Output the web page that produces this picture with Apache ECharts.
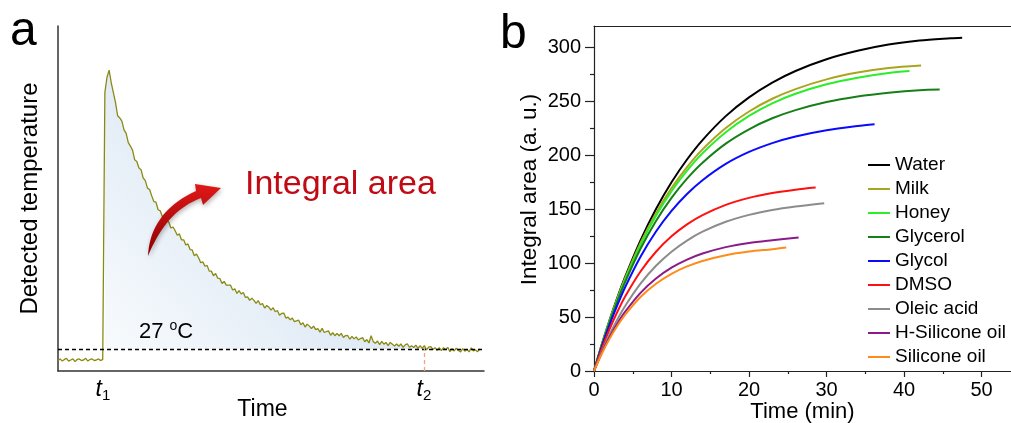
<!DOCTYPE html>
<html><head><meta charset="utf-8">
<script src="https://cdn.jsdelivr.net/npm/echarts@6/dist/echarts.min.js"></script>
<style>html,body{margin:0;padding:0;background:#fff}#c{width:1011px;height:423px}</style>
</head><body><div id="c"></div>
<script>
const FONT = '"Liberation Sans", Arial, Helvetica, sans-serif';

// ---------- Panel a: detected temperature trace (time step 0.5 units) ----------
const tempStep = 0.5;
const tempValues = [
  25.95, 26.1, 25.9, 26.05, 26.15, 25.9, 26.0, 26.1, 25.85, 26.05,
  26.1, 25.95, 26.0, 26.15, 25.9, 26.05, 26.1, 25.95, 26.0, 26.1,
  25.95, 26.05, 50.3, 51.7, 52.35, 51.2, 50.3, 49.4, 48.2, 48.0,
  47.72, 46.92, 46.6, 45.75, 45.45, 45.08, 44.2, 44.05, 43.45, 43.3,
  42.54, 42.31, 41.62, 41.5, 40.92, 40.4, 40.35, 39.66, 39.56, 39.03,
  39.18, 38.67, 38.55, 38.0, 38.09, 37.75, 37.34, 37.46, 36.91, 36.92,
  36.45, 36.55, 36.04, 36.0, 35.48, 35.63, 35.29, 34.84, 34.92, 34.52,
  34.6, 34.08, 34.08, 33.66, 33.87, 33.44, 33.4, 32.95, 33.15, 32.81,
  32.81, 32.8, 32.36, 32.47, 32.05, 32.31, 32.0, 32.14, 31.69, 31.74,
  31.42, 31.62, 31.42, 31.15, 31.4, 31.02, 31.14, 30.72, 30.95, 30.8,
  30.53, 30.75, 30.39, 30.5, 30.07, 30.23, 30.27, 29.81, 29.9, 29.65,
  29.81, 29.48, 29.56, 29.62, 29.2, 29.38, 29.0, 29.26, 29.08, 28.86,
  29.08, 28.76, 28.85, 28.53, 28.87, 28.5, 28.59, 28.65, 28.25, 28.48,
  28.21, 28.42, 28.2, 28.42, 28.04, 28.22, 28.23, 27.89, 28.15, 27.92,
  28.1, 27.82, 27.95, 28.03, 27.66, 27.86, 27.55, 28.2, 27.67, 27.52,
  27.72, 27.4, 27.7, 27.44, 27.6, 27.3, 27.6, 27.44, 27.28, 27.46,
  27.25, 27.46, 27.14, 27.38, 27.48, 27.16, 27.3, 27.14, 27.35, 27.06,
  27.3, 27.06, 27.31, 26.92, 27.16, 27.22, 26.96, 27.12, 26.87, 27.12,
  26.85, 27.12, 26.94, 27.15, 26.75, 27.03, 26.82, 27.08, 26.86, 26.74,
  27.04, 26.8, 26.96, 26.74, 27.1, 26.82, 26.92, 26.76, 27.0
];
const t1 = 10.56;
const t2 = 85.9;
const ambient = 27;
const areaStart = 11;

// ---------- Panel b: integral area vs time ----------
const times = [0, 1, 2, 3, 4, 6, 8, 10, 12, 14, 17, 20, 23, 26, 30, 34, 38, 42, 46];
const seriesNames = ['Water', 'Milk', 'Honey', 'Glycerol', 'Glycol', 'DMSO', 'Oleic acid', 'H-Silicone oil', 'Silicone oil'];
const seriesColors = ['#000000', '#aaa51e', '#2aee2a', '#177f17', '#0a0aff', '#ff1010', '#8c8c8c', '#8b1a8b', '#ff8c1a'];
const water     = [0, 24.5, 47.0, 67.9, 87.1, 121.2, 150.3, 175.1, 196.2, 214.2, 236.4, 253.8, 267.5, 278.3, 289.2, 297.0, 302.8, 306.5, 308.6];
const milk      = [0, 24.3, 46.6, 67.0, 85.8, 118.7, 146.4, 169.6, 189.2, 205.6, 225.4, 240.7, 252.5, 261.5, 270.5, 276.8, 281.0];
const honey     = [0, 23.9, 45.8, 65.9, 84.3, 116.7, 143.9, 166.7, 185.9, 202.0, 221.5, 236.6, 248.2, 257.1, 265.9, 272.1, 276.5];
const glycerol  = [0, 23.5, 45.0, 64.5, 82.3, 113.4, 139.2, 160.6, 178.4, 193.2, 210.9, 224.2, 234.4, 242.0, 249.5, 254.6, 258.1, 260.5];
const glycol    = [0, 22.4, 42.6, 60.9, 77.5, 106.0, 129.4, 148.5, 164.2, 177.0, 192.1, 203.2, 211.4, 217.5, 223.3, 227.2];
const dmso      = [0, 20.6, 38.7, 54.7, 68.9, 92.3, 110.6, 124.9, 136.0, 144.6, 154.1, 160.6, 165.1, 168.2];
const oleic     = [0, 17.8, 33.6, 47.6, 60.1, 81.0, 97.6, 110.7, 121.0, 129.2, 138.4, 144.8, 149.3, 152.5];
const hSilicone = [0, 16.8, 31.3, 43.9, 54.8, 72.5, 85.8, 95.8, 103.3, 109.0, 114.9, 118.8, 121.3];
const silicone  = [0, 16.0, 29.8, 41.7, 52.0, 68.6, 80.9, 90.1, 97.0, 102.1, 107.4, 110.8, 113.0];
const endTimes  = [47.5, 42.2, 40.7, 44.6, 36.2, 28.6, 29.7, 26.4, 24.8];
const endValues = [309.2, 283.3, 278.2, 261.0, 228.8, 170.1, 155.6, 123.8, 114.6];
const xTicksB = [0, 10, 20, 30, 40, 50];
const xMinorB = [5, 15, 25, 35, 45];
const yTicksB = [0, 50, 100, 150, 200, 250, 300];
const yMinorB = [25, 75, 125, 175, 225, 275];

const allB = [water, milk, honey, glycerol, glycol, dmso, oleic, hSilicone, silicone];

const tempData = tempValues.map((v, i) => [i * tempStep, v]);
const areaData = tempData.filter(p => p[0] >= areaStart && p[0] <= t2 + 0.2);

// curved arrow outline (decoration), sampled from two cubic curves
function cubic(p0, p1, p2, p3, n) {
  const pts = [];
  for (let i = 0; i <= n; i++) {
    const t = i / n, u = 1 - t;
    pts.push([
      u*u*u*p0[0] + 3*u*u*t*p1[0] + 3*u*t*t*p2[0] + t*t*t*p3[0],
      u*u*u*p0[1] + 3*u*u*t*p1[1] + 3*u*t*t*p2[1] + t*t*t*p3[1]
    ]);
  }
  return pts;
}
const arrowPts = cubic([148,256],[149,230],[163,206],[196,191],20)
  .concat([[195,184],[221,188],[203,205]])
  .concat(cubic([201,198],[180,206],[162,222],[148,256],20));

const chart = echarts.init(document.getElementById('c'));
const axisColA = '#333';
const axisColB = '#222';

const seriesB = allB.map((vals, k) => ({
  name: seriesNames[k],
  type: 'line',
  xAxisIndex: 1,
  yAxisIndex: 1,
  smooth: 0.3,
  symbol: 'none',
  animation: false,
  lineStyle: { color: seriesColors[k], width: 2 },
  itemStyle: { color: seriesColors[k] },
  data: vals.map((v, i) => [times[i], v]).concat([[endTimes[k], endValues[k]]])
}));

const option = {
  backgroundColor: '#fff',
  animation: false,
  grid: [
    { left: 58, top: 26, width: 426, height: 345, containLabel: false, outerBoundsMode: 'none' },
    { left: 594, top: 26, right: 0, height: 345, containLabel: false, outerBoundsMode: 'none' }
  ],
  xAxis: [
    {
      gridIndex: 0, type: 'value', min: 0, max: 100, position: 'bottom',
      axisLine: { onZero: false, lineStyle: { color: axisColA, width: 1.5 } },
      axisTick: { show: false }, splitLine: { show: false },
      axisLabel: {
        customValues: [t1, t2], margin: 6, color: '#000',
        formatter: v => Math.abs(v - t1) < 1 ? '{t|t}{s|1}' : '{t|t}{s|2}',
        rich: {
          t: { fontFamily: FONT, fontSize: 23, fontStyle: 'italic', lineHeight: 26, color: '#000' },
          s: { fontFamily: FONT, fontSize: 15, verticalAlign: 'bottom', lineHeight: 26, color: '#000' }
        }
      },
      name: 'Time', nameLocation: 'middle', nameGap: 27, nameMoveOverlap: false,
      nameTextStyle: { fontFamily: FONT, fontSize: 23, color: '#000', padding: [0, 17, 0, 0] }
    },
    {
      gridIndex: 1, type: 'value', min: 0, max: 53.8, position: 'bottom',
      axisLine: { onZero: false, lineStyle: { color: axisColB, width: 1.2 } },
      axisTick: { customValues: xTicksB, length: 6, lineStyle: { color: axisColB, width: 1.2 } },
      axisLabel: { customValues: xTicksB, fontFamily: FONT, fontSize: 20, color: '#000', margin: 9 },
      splitLine: { show: false },
      name: 'Time (min)', nameLocation: 'middle', nameGap: 30, nameMoveOverlap: false,
      nameTextStyle: { fontFamily: FONT, fontSize: 22, color: '#000' }
    },
    {
      gridIndex: 1, type: 'value', min: 0, max: 53.8, position: 'bottom',
      axisLine: { show: false, onZero: false },
      axisTick: { customValues: xMinorB, length: 3, lineStyle: { color: axisColB, width: 1.2 } },
      axisLabel: { show: false }, splitLine: { show: false }
    },
    {
      gridIndex: 1, type: 'value', min: 0, max: 53.8, position: 'top',
      axisLine: { show: true, onZero: false, lineStyle: { color: axisColB, width: 1.2 } },
      axisTick: { show: false }, axisLabel: { show: false }, splitLine: { show: false }
    }
  ],
  yAxis: [
    {
      gridIndex: 0, type: 'value', min: 25, max: 56.36, position: 'left',
      axisLine: { show: true, onZero: false, lineStyle: { color: axisColA, width: 1.5 } },
      axisTick: { show: false }, axisLabel: { show: false }, splitLine: { show: false },
      name: 'Detected temperature', nameLocation: 'middle', nameGap: 16, nameMoveOverlap: false,
      nameTextStyle: { fontFamily: FONT, fontSize: 24, color: '#000' }
    },
    {
      gridIndex: 1, type: 'value', min: 0, max: 320, position: 'left',
      axisLine: { show: true, onZero: false, lineStyle: { color: axisColB, width: 1.2 } },
      axisTick: { customValues: yTicksB, length: 9, lineStyle: { color: axisColB, width: 1.2 } },
      axisLabel: { customValues: yTicksB, fontFamily: FONT, fontSize: 20, color: '#000', margin: 13 },
      splitLine: { show: false },
      name: 'Integral area (a. u.)', nameLocation: 'middle', nameGap: 53, nameMoveOverlap: false,
      nameTextStyle: { fontFamily: FONT, fontSize: 22.5, color: '#000', padding: [0, 0, 0, 18] }
    },
    {
      gridIndex: 1, type: 'value', min: 0, max: 320, position: 'left',
      axisLine: { show: false, onZero: false },
      axisTick: { customValues: yMinorB, length: 4, lineStyle: { color: axisColB, width: 1.2 } },
      axisLabel: { show: false }, splitLine: { show: false }
    }
  ],
  legend: {
    data: seriesNames, orient: 'vertical', left: 868, top: 155, padding: 0,
    icon: 'rect', itemWidth: 22, itemHeight: 2, itemGap: 4,
    textStyle: { fontFamily: FONT, fontSize: 19, color: '#000', lineHeight: 20 }
  },
  series: [
    {
      type: 'line', xAxisIndex: 0, yAxisIndex: 0, data: areaData, symbol: 'none', silent: true, z: 1,
      lineStyle: { width: 0, opacity: 0 },
      areaStyle: {
        origin: ambient, opacity: 1,
        color: new echarts.graphic.LinearGradient(0, 1, 1, 0,
          [{ offset: 0, color: '#f8fbfd' }, { offset: 0.45, color: '#e1ebf6' }, { offset: 1, color: '#d2e2f1' }])
      }
    },
    {
      type: 'line', xAxisIndex: 0, yAxisIndex: 0, data: tempData, symbol: 'none', z: 3,
      lineStyle: { color: '#8a8a12', width: 1.3 },
      markLine: {
        symbol: 'none', silent: true, animation: false, label: { show: false },
        data: [
          { yAxis: ambient, lineStyle: { color: '#000', type: [4, 3], width: 1.3 } },
          [ { coord: [t2, 25], lineStyle: { color: '#f5a27a', type: [4, 3], width: 1.3 } }, { coord: [t2, ambient] } ]
        ]
      }
    }
  ].concat(seriesB),
  graphic: [
    { type: 'text', x: 10, y: 32, style: { text: 'a', font: '48px ' + FONT, fill: '#000', verticalAlign: 'middle' } },
    { type: 'text', x: 500, y: 35, style: { text: 'b', font: '48px ' + FONT, fill: '#000', verticalAlign: 'middle' } },
    { type: 'text', x: 245, y: 185, z: 10, style: { text: 'Integral area', font: '34px ' + FONT, fill: '#c00a14', verticalAlign: 'middle' } },
    {
      type: 'text', x: 139, y: 332, z: 10,
      style: {
        text: '{n|27 }{s|o}{n|C}', verticalAlign: 'middle',
        rich: {
          n: { fontFamily: FONT, fontSize: 22, lineHeight: 26, fill: '#000' },
          s: { fontFamily: FONT, fontSize: 14, verticalAlign: 'top', lineHeight: 26, fill: '#000' }
        }
      }
    },
    {
      type: 'polygon', z: 10,
      shape: { points: arrowPts },
      style: {
        fill: new echarts.graphic.LinearGradient(0, 0, 0, 1,
          [{ offset: 0, color: '#e01818' }, { offset: 1, color: '#8c0000' }]),
        shadowBlur: 5, shadowColor: 'rgba(0,0,0,0.3)', shadowOffsetX: 1, shadowOffsetY: 2
      }
    }
  ]
};
chart.setOption(option);
</script>
</body></html>
